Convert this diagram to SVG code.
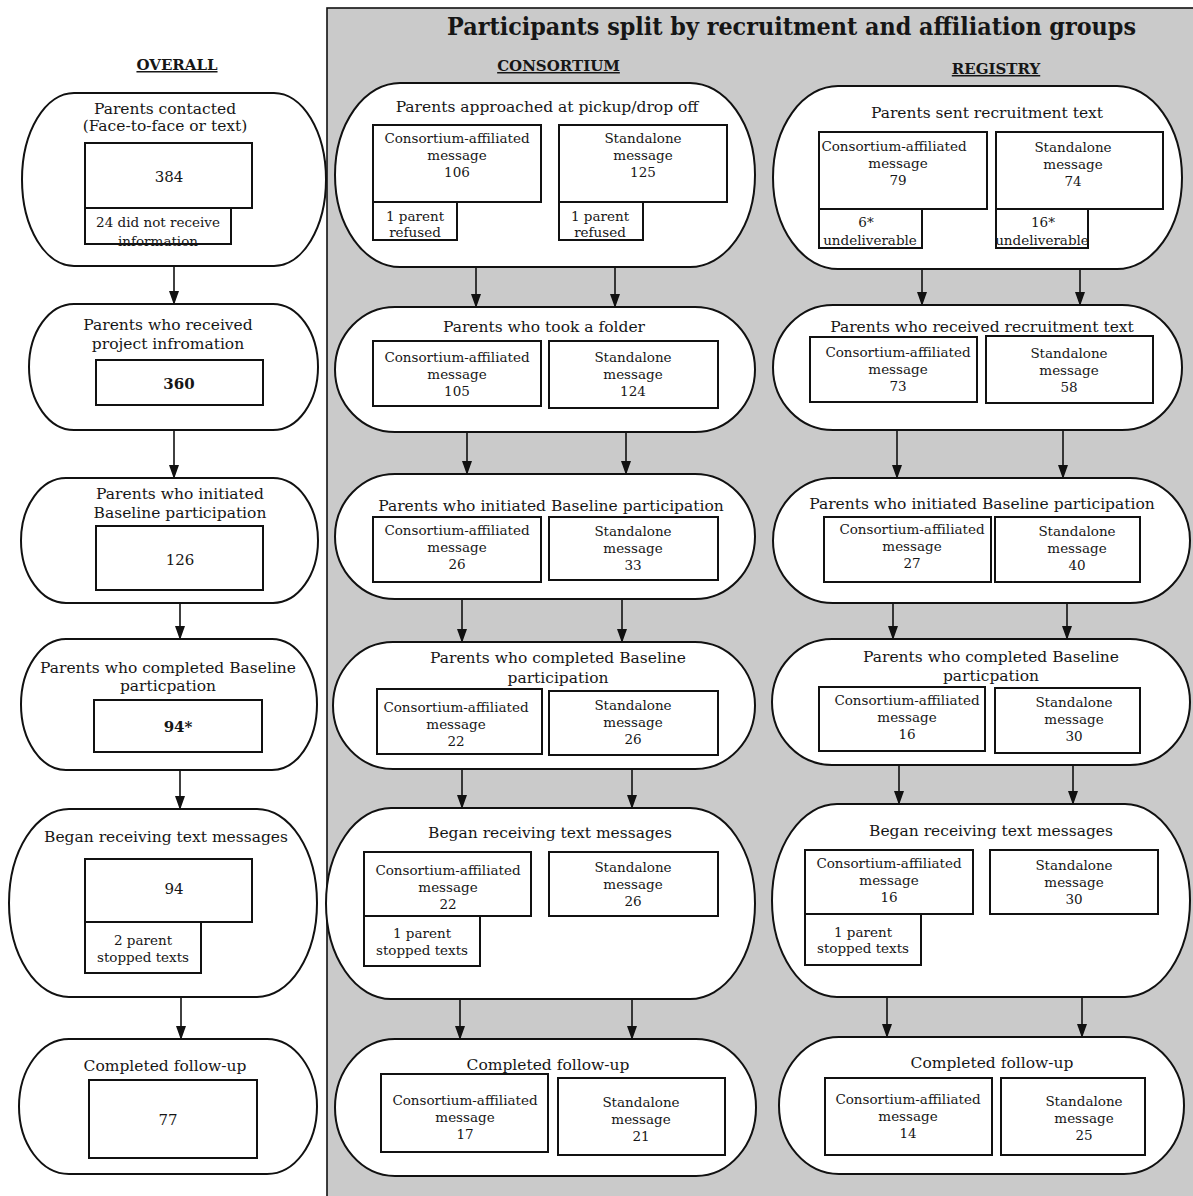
<svg xmlns="http://www.w3.org/2000/svg" width="1193" height="1196" viewBox="0 0 1193 1196">
<defs>
<marker id="ah" markerUnits="userSpaceOnUse" markerWidth="10" markerHeight="14" refX="5" refY="13" orient="0" viewBox="0 0 10 14">
<path d="M0,0 L10,0 L5,14 Z" fill="#111"/>
</marker>
<style>
.n{fill:#fff;stroke:#111;stroke-width:2}
.b{fill:#fff;stroke:#111;stroke-width:2}
text{font-family:'DejaVu Serif','Liberation Serif',serif;fill:#161616;text-anchor:middle}
.tt{font-size:15.5px}
.bx{font-size:13.5px}
.num{font-size:15px}
.bold{font-weight:bold}
.hd{font-size:15px;font-weight:bold;text-decoration:underline}
.ttl{font-size:24px;font-weight:bold}
.c line{stroke:#111;stroke-width:1.6;marker-end:url(#ah)}
</style>
</defs>
<rect x="0" y="0" width="1193" height="1196" fill="#fff"/>
<rect id="panel" x="327" y="8" width="870" height="1192" fill="#cacaca" stroke="#111" stroke-width="1.6"/>
<text class="ttl" x="791.5" y="35" textLength="689" lengthAdjust="spacingAndGlyphs">Participants split by recruitment and affiliation groups</text>
<text class="hd" x="177" y="70">OVERALL</text>
<text class="hd" x="558.5" y="71">CONSORTIUM</text>
<text class="hd" x="996" y="74">REGISTRY</text>

<g class="c" id="connectors">
<line x1="174" y1="266" x2="174" y2="304"/>
<line x1="174" y1="430" x2="174" y2="478"/>
<line x1="180" y1="603" x2="180" y2="639"/>
<line x1="180" y1="770" x2="180" y2="809"/>
<line x1="181" y1="997" x2="181" y2="1039"/>
<line x1="476" y1="267" x2="476" y2="307"/>
<line x1="615" y1="267" x2="615" y2="307"/>
<line x1="467" y1="432" x2="467" y2="474"/>
<line x1="626" y1="432" x2="626" y2="474"/>
<line x1="462" y1="599" x2="462" y2="642"/>
<line x1="622" y1="599" x2="622" y2="642"/>
<line x1="462" y1="769" x2="462" y2="808"/>
<line x1="632" y1="769" x2="632" y2="808"/>
<line x1="460" y1="999" x2="460" y2="1039"/>
<line x1="632" y1="999" x2="632" y2="1039"/>
<line x1="922" y1="269" x2="922" y2="305"/>
<line x1="1080" y1="269" x2="1080" y2="305"/>
<line x1="897" y1="430" x2="897" y2="478"/>
<line x1="1063" y1="430" x2="1063" y2="478"/>
<line x1="893" y1="603" x2="893" y2="639"/>
<line x1="1067" y1="603" x2="1067" y2="639"/>
<line x1="899" y1="765" x2="899" y2="804"/>
<line x1="1073" y1="765" x2="1073" y2="804"/>
<line x1="887" y1="997" x2="887" y2="1037"/>
<line x1="1082" y1="997" x2="1082" y2="1037"/>
</g>

<!-- OVERALL column -->
<g id="o1">
<rect class="n" x="22" y="93" width="304" height="173" rx="52" ry="86.5"/>
<text class="tt" x="165" y="114">Parents contacted</text>
<text class="tt" x="165" y="131">(Face-to-face or text)</text>
<rect class="b" x="85" y="143" width="167" height="65"/>
<text class="num" x="169" y="182">384</text>
<rect class="b" x="85" y="208" width="146" height="36"/>
<text class="bx" x="158" y="227">24 did not receive</text>
<text class="bx" x="158" y="246">information</text>
</g>
<g id="o2">
<rect class="n" x="29" y="304" width="289" height="126" rx="45" ry="63"/>
<text class="tt" x="168" y="330">Parents who received</text>
<text class="tt" x="168" y="349">project infromation</text>
<rect class="b" x="96" y="360" width="167" height="45"/>
<text class="num bold" x="179" y="389">360</text>
</g>
<g id="o3">
<rect class="n" x="21" y="478" width="297" height="125" rx="45" ry="62.5"/>
<text class="tt" x="180" y="499">Parents who initiated</text>
<text class="tt" x="180" y="518">Baseline participation</text>
<rect class="b" x="96" y="526" width="167" height="64"/>
<text class="num" x="180" y="565">126</text>
</g>
<g id="o4">
<rect class="n" x="21" y="639" width="296" height="131" rx="45" ry="65.5"/>
<text class="tt" x="168" y="673">Parents who completed Baseline</text>
<text class="tt" x="168" y="691">particpation</text>
<rect class="b" x="94" y="700" width="168" height="52"/>
<text class="num bold" x="178" y="732">94*</text>
</g>
<g id="o5">
<rect class="n" x="9" y="809" width="308" height="188" rx="60" ry="94"/>
<text class="tt" x="166" y="842">Began receiving text messages</text>
<rect class="b" x="85" y="859" width="167" height="63"/>
<text class="num" x="174" y="894">94</text>
<rect class="b" x="85" y="922" width="116" height="51"/>
<text class="bx" x="143" y="945">2 parent</text>
<text class="bx" x="143" y="962">stopped texts</text>
</g>
<g id="o6">
<rect class="n" x="19" y="1039" width="298" height="135" rx="50" ry="67.5"/>
<text class="tt" x="165" y="1071">Completed follow-up</text>
<rect class="b" x="89" y="1080" width="168" height="78"/>
<text class="num" x="168" y="1125">77</text>
</g>

<!-- CONSORTIUM column -->
<g id="c1">
<rect class="n" x="335" y="83" width="420" height="184" rx="65" ry="92"/>
<text class="tt" x="547" y="112">Parents approached at pickup/drop off</text>
<rect class="b" x="373" y="125" width="168" height="77"/>
<text class="bx" x="457" y="143">Consortium-affiliated</text>
<text class="bx" x="457" y="160">message</text>
<text class="bx" x="457" y="177">106</text>
<rect class="b" x="373" y="202" width="84" height="38"/>
<text class="bx" x="415" y="221">1 parent</text>
<text class="bx" x="415" y="237">refused</text>
<rect class="b" x="559" y="125" width="168" height="77"/>
<text class="bx" x="643" y="143">Standalone</text>
<text class="bx" x="643" y="160">message</text>
<text class="bx" x="643" y="177">125</text>
<rect class="b" x="559" y="202" width="84" height="38"/>
<text class="bx" x="600" y="221">1 parent</text>
<text class="bx" x="600" y="237">refused</text>
</g>
<g id="c2">
<rect class="n" x="335" y="307" width="420" height="125" rx="60" ry="62.5"/>
<text class="tt" x="544" y="332">Parents who took a folder</text>
<rect class="b" x="373" y="341" width="168" height="65"/>
<text class="bx" x="457" y="362">Consortium-affiliated</text>
<text class="bx" x="457" y="379">message</text>
<text class="bx" x="457" y="396">105</text>
<rect class="b" x="549" y="341" width="169" height="67"/>
<text class="bx" x="633" y="362">Standalone</text>
<text class="bx" x="633" y="379">message</text>
<text class="bx" x="633" y="396">124</text>
</g>
<g id="c3">
<rect class="n" x="335" y="474" width="420" height="125" rx="60" ry="62.5"/>
<text class="tt" x="551" y="511">Parents who initiated Baseline participation</text>
<rect class="b" x="373" y="517" width="168" height="65"/>
<text class="bx" x="457" y="535">Consortium-affiliated</text>
<text class="bx" x="457" y="552">message</text>
<text class="bx" x="457" y="569">26</text>
<rect class="b" x="549" y="517" width="169" height="63"/>
<text class="bx" x="633" y="536">Standalone</text>
<text class="bx" x="633" y="553">message</text>
<text class="bx" x="633" y="570">33</text>
</g>
<g id="c4">
<rect class="n" x="333" y="642" width="422" height="127" rx="60" ry="63.5"/>
<text class="tt" x="558" y="663">Parents who completed Baseline</text>
<text class="tt" x="558" y="683">participation</text>
<rect class="b" x="377" y="689" width="165" height="65"/>
<text class="bx" x="456" y="712">Consortium-affiliated</text>
<text class="bx" x="456" y="729">message</text>
<text class="bx" x="456" y="746">22</text>
<rect class="b" x="549" y="691" width="169" height="64"/>
<text class="bx" x="633" y="710">Standalone</text>
<text class="bx" x="633" y="727">message</text>
<text class="bx" x="633" y="744">26</text>
</g>
<g id="c5">
<rect class="n" x="326" y="808" width="429" height="191" rx="65" ry="95.5"/>
<text class="tt" x="550" y="838">Began receiving text messages</text>
<rect class="b" x="364" y="852" width="167" height="64"/>
<text class="bx" x="448" y="875">Consortium-affiliated</text>
<text class="bx" x="448" y="892">message</text>
<text class="bx" x="448" y="909">22</text>
<rect class="b" x="364" y="916" width="116" height="50"/>
<text class="bx" x="422" y="938">1 parent</text>
<text class="bx" x="422" y="955">stopped texts</text>
<rect class="b" x="549" y="852" width="169" height="64"/>
<text class="bx" x="633" y="872">Standalone</text>
<text class="bx" x="633" y="889">message</text>
<text class="bx" x="633" y="906">26</text>
</g>
<g id="c6">
<rect class="n" x="335" y="1039" width="421" height="137" rx="60" ry="68.5"/>
<text class="tt" x="548" y="1070">Completed follow-up</text>
<rect class="b" x="381" y="1074" width="167" height="78"/>
<text class="bx" x="465" y="1105">Consortium-affiliated</text>
<text class="bx" x="465" y="1122">message</text>
<text class="bx" x="465" y="1139">17</text>
<rect class="b" x="558" y="1078" width="167" height="77"/>
<text class="bx" x="641" y="1107">Standalone</text>
<text class="bx" x="641" y="1124">message</text>
<text class="bx" x="641" y="1141">21</text>
</g>

<!-- REGISTRY column -->
<g id="r1">
<rect class="n" x="773" y="86" width="409" height="183" rx="65" ry="91.5"/>
<text class="tt" x="987" y="118">Parents sent recruitment text</text>
<rect class="b" x="819" y="132" width="168" height="77"/>
<text class="bx" x="894" y="151">Consortium-affiliated</text>
<text class="bx" x="898" y="168">message</text>
<text class="bx" x="898" y="185">79</text>
<rect class="b" x="819" y="209" width="103" height="39"/>
<text class="bx" x="866" y="227">6*</text>
<text class="bx" x="870" y="245">undeliverable</text>
<rect class="b" x="996" y="132" width="167" height="77"/>
<text class="bx" x="1073" y="152">Standalone</text>
<text class="bx" x="1073" y="169">message</text>
<text class="bx" x="1073" y="186">74</text>
<rect class="b" x="996" y="209" width="92" height="39"/>
<text class="bx" x="1043" y="227">16*</text>
<text class="bx" x="1042" y="245">undeliverable</text>
</g>
<g id="r2">
<rect class="n" x="773" y="305" width="409" height="125" rx="60" ry="62.5"/>
<text class="tt" x="982" y="332">Parents who received recruitment text</text>
<rect class="b" x="810" y="337" width="167" height="65"/>
<text class="bx" x="898" y="357">Consortium-affiliated</text>
<text class="bx" x="898" y="374">message</text>
<text class="bx" x="898" y="391">73</text>
<rect class="b" x="986" y="336" width="167" height="67"/>
<text class="bx" x="1069" y="358">Standalone</text>
<text class="bx" x="1069" y="375">message</text>
<text class="bx" x="1069" y="392">58</text>
</g>
<g id="r3">
<rect class="n" x="773" y="478" width="417" height="125" rx="60" ry="62.5"/>
<text class="tt" x="982" y="509">Parents who initiated Baseline participation</text>
<rect class="b" x="824" y="517" width="167" height="65"/>
<text class="bx" x="912" y="534">Consortium-affiliated</text>
<text class="bx" x="912" y="551">message</text>
<text class="bx" x="912" y="568">27</text>
<rect class="b" x="995" y="517" width="145" height="65"/>
<text class="bx" x="1077" y="536">Standalone</text>
<text class="bx" x="1077" y="553">message</text>
<text class="bx" x="1077" y="570">40</text>
</g>
<g id="r4">
<rect class="n" x="772" y="639" width="418" height="126" rx="60" ry="63"/>
<text class="tt" x="991" y="662">Parents who completed Baseline</text>
<text class="tt" x="991" y="681">particpation</text>
<rect class="b" x="819" y="687" width="166" height="64"/>
<text class="bx" x="907" y="705">Consortium-affiliated</text>
<text class="bx" x="907" y="722">message</text>
<text class="bx" x="907" y="739">16</text>
<rect class="b" x="995" y="688" width="145" height="65"/>
<text class="bx" x="1074" y="707">Standalone</text>
<text class="bx" x="1074" y="724">message</text>
<text class="bx" x="1074" y="741">30</text>
</g>
<g id="r5">
<rect class="n" x="772" y="804" width="418" height="193" rx="65" ry="96.5"/>
<text class="tt" x="991" y="836">Began receiving text messages</text>
<rect class="b" x="805" y="850" width="168" height="64"/>
<text class="bx" x="889" y="868">Consortium-affiliated</text>
<text class="bx" x="889" y="885">message</text>
<text class="bx" x="889" y="902">16</text>
<rect class="b" x="805" y="914" width="116" height="51"/>
<text class="bx" x="863" y="937">1 parent</text>
<text class="bx" x="863" y="953">stopped texts</text>
<rect class="b" x="990" y="850" width="168" height="64"/>
<text class="bx" x="1074" y="870">Standalone</text>
<text class="bx" x="1074" y="887">message</text>
<text class="bx" x="1074" y="904">30</text>
</g>
<g id="r6">
<rect class="n" x="779" y="1037" width="405" height="137" rx="60" ry="68.5"/>
<text class="tt" x="992" y="1068">Completed follow-up</text>
<rect class="b" x="825" y="1078" width="167" height="77"/>
<text class="bx" x="908" y="1104">Consortium-affiliated</text>
<text class="bx" x="908" y="1121">message</text>
<text class="bx" x="908" y="1138">14</text>
<rect class="b" x="1001" y="1078" width="144" height="77"/>
<text class="bx" x="1084" y="1106">Standalone</text>
<text class="bx" x="1084" y="1123">message</text>
<text class="bx" x="1084" y="1140">25</text>
</g>
</svg>
